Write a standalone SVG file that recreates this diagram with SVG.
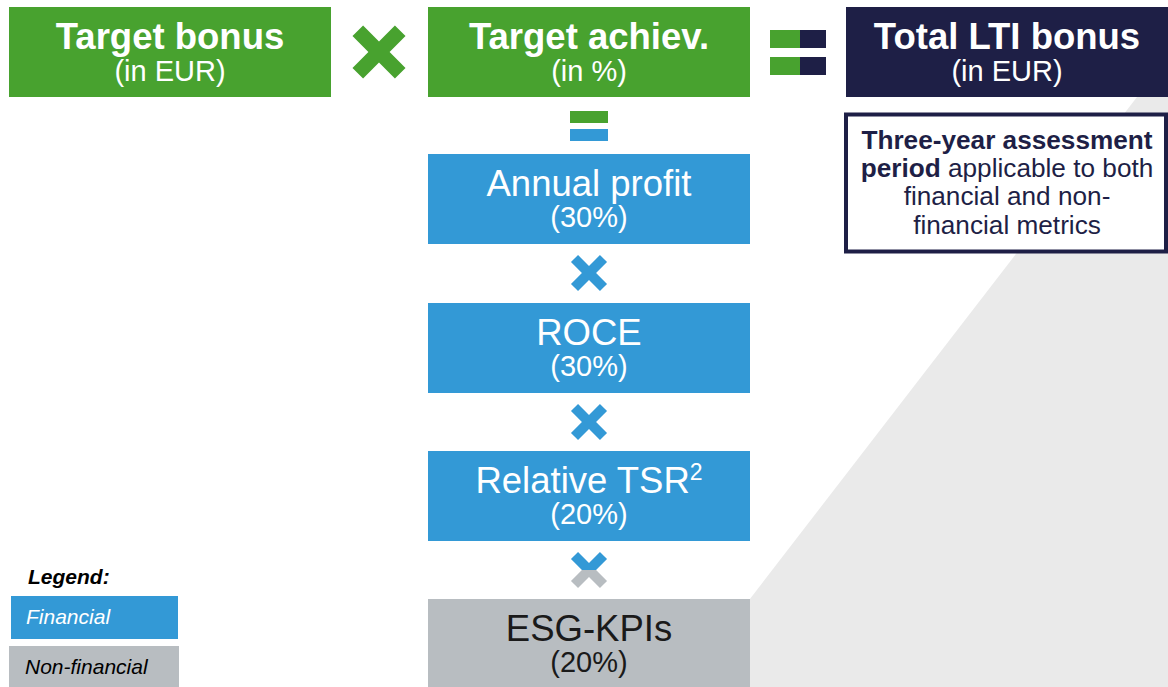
<svg xmlns="http://www.w3.org/2000/svg" width="1168" height="687" viewBox="0 0 1168 687">
  <style>
    .green { fill: #48A22F; }
    .blue { fill: #3399D6; }
    .grey { fill: #B8BDC1; }
    .navy { fill: #1E1F46; }
    text { font-family: "Liberation Sans", Arial, sans-serif; text-anchor: middle; }
    .title { font-size: 36.5px; }
    .bold { font-weight: bold; }
    .sub { font-size: 29px; }
    .w { fill: #FFFFFF; }
    .k { fill: #1A1A1A; }
    .note { font-size: 26.2px; fill: #1E1F46; }
    .legend { font-size: 21px; font-style: italic; text-anchor: start; }
  </style>
  <defs>
    <!-- multiplication sign: a plus rotated by 45 degrees -->
    <path id="crossBig" d="M-7.5,-30 H7.5 V-7.5 H30 V7.5 H7.5 V30 H-7.5 V7.5 H-30 V-7.5 H-7.5 Z" transform="rotate(45)"/>
    <path id="crossSmall" d="M-5,-20.5 H5 V-5 H20.5 V5 H5 V20.5 H-5 V5 H-20.5 V-5 H-5 Z" transform="rotate(45)"/>
    <clipPath id="upperHalf"><rect x="-30" y="-30" width="60" height="30"/></clipPath>
    <clipPath id="lowerHalf"><rect x="-30" y="0" width="60" height="30"/></clipPath>
  </defs>

  <!-- background wedge -->
  <polygon points="1137,97 1168,97 1168,687 682,687" fill="#EAEAEA"/>

  <g id="target-bonus">
    <rect class="green" x="9" y="7" width="322" height="90"/>
    <text class="title bold w" x="170" y="49">Target bonus</text>
    <text class="sub w" x="170" y="81">(in EUR)</text>
  </g>

  <g id="target-achievement">
    <rect class="green" x="428" y="7" width="322" height="90"/>
    <text class="title bold w" x="589" y="49">Target achiev.</text>
    <text class="sub w" x="589" y="81">(in %)</text>
  </g>

  <g id="total-lti-bonus">
    <rect class="navy" x="846" y="7" width="322" height="90"/>
    <text class="title bold w" x="1007" y="49">Total LTI bonus</text>
    <text class="sub w" x="1007" y="81">(in EUR)</text>
  </g>

  <g id="assessment-note">
    <rect x="846" y="114.5" width="320" height="137" fill="#FFFFFF" stroke="#1E1F46" stroke-width="4"/>
    <text class="note" x="1007" y="149"><tspan class="bold">Three-year assessment</tspan></text>
    <text class="note" x="1007" y="177"><tspan class="bold">period</tspan> applicable to both</text>
    <text class="note" x="1007" y="205">financial and non-</text>
    <text class="note" x="1007" y="234">financial metrics</text>
  </g>

  <g id="annual-profit">
    <rect class="blue" x="428" y="154" width="322" height="90"/>
    <text class="title w" x="589" y="196">Annual profit</text>
    <text class="sub w" x="589" y="227">(30%)</text>
  </g>

  <g id="roce">
    <rect class="blue" x="428" y="303" width="322" height="90"/>
    <text class="title w" x="589" y="345">ROCE</text>
    <text class="sub w" x="589" y="376">(30%)</text>
  </g>

  <g id="relative-tsr">
    <rect class="blue" x="428" y="451" width="322" height="90"/>
    <text class="title w" x="589" y="493">Relative TSR<tspan font-size="23px" dy="-13">2</tspan></text>
    <text class="sub w" x="589" y="524">(20%)</text>
  </g>

  <g id="esg-kpis">
    <rect class="grey" x="428" y="599" width="322" height="88"/>
    <text class="title k" x="589" y="641">ESG-KPIs</text>
    <text class="sub k" x="589" y="672">(20%)</text>
  </g>

  <g id="operators">
    <!-- times between target bonus and achievement -->
    <use href="#crossBig" class="green" transform="translate(379,52)"/>
    <!-- equals leading to total bonus -->
    <rect class="green" x="770" y="30" width="30" height="18"/>
    <rect class="navy" x="800" y="30" width="26" height="18"/>
    <rect class="green" x="770" y="57" width="30" height="18"/>
    <rect class="navy" x="800" y="57" width="26" height="18"/>
    <!-- equals below target achievement -->
    <rect class="green" x="570" y="111" width="38" height="12"/>
    <rect class="blue" x="570" y="129" width="38" height="12"/>
    <!-- times between metrics -->
    <use href="#crossSmall" class="blue" transform="translate(589,273)"/>
    <use href="#crossSmall" class="blue" transform="translate(589,422)"/>
    <g transform="translate(589,570)">
      <use href="#crossSmall" class="blue" clip-path="url(#upperHalf)"/>
      <use href="#crossSmall" class="grey" clip-path="url(#lowerHalf)"/>
    </g>
  </g>

  <g id="legend">
    <text class="legend bold" x="28" y="584" fill="#000000">Legend:</text>
    <rect class="blue" x="11" y="596" width="167" height="43"/>
    <text class="legend w" x="26" y="624">Financial</text>
    <rect class="grey" x="9" y="646" width="170" height="41"/>
    <text class="legend" x="25" y="674" fill="#000000">Non-financial</text>
  </g>
</svg>
